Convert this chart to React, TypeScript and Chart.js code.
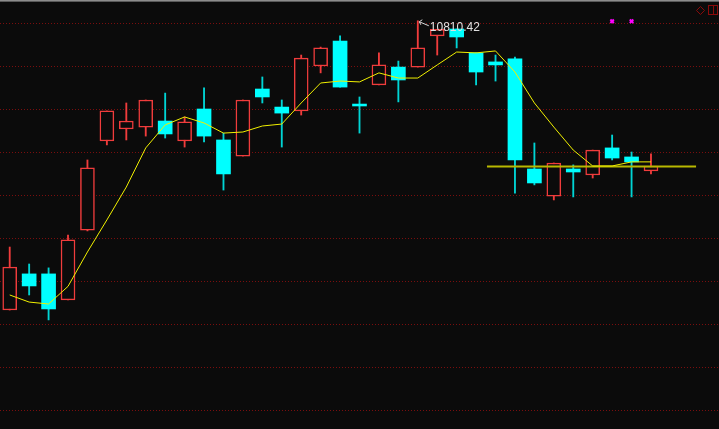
import { useEffect, useRef } from "react";
import { Chart, registerables } from "chart.js";

Chart.register(...registerables);

// ---- data ----
const slotCount = 37; // 34 candles + 3 empty slots on the right
const opens = [9465, 9633, 9633, 9512, 9837, 10251, 10307, 10316, 10344, 10251, 10400, 10256, 10181, 10493, 10409, 10391, 10600, 10716, 10423, 10512, 10595, 10595, 10740, 10772, 10661, 10619, 10633, 10121, 9995, 10121, 10093, 10219, 10177, 10112];
const closes = [9665, 9577, 9470, 9791, 10126, 10391, 10344, 10442, 10284, 10340, 10274, 10098, 10442, 10456, 10381, 10637, 10684, 10502, 10414, 10605, 10535, 10684, 10770, 10735, 10572, 10605, 10163, 10056, 10149, 10107, 10209, 10172, 10154, 10135];
const highs = [9758, 9679, 9661, 9814, 10163, 10391, 10428, 10442, 10474, 10363, 10498, 10288, 10442, 10549, 10442, 10651, 10688, 10740, 10456, 10661, 10623, 10810.42, 10770, 10772, 10661, 10651, 10642, 10242, 10149, 10140, 10209, 10279, 10200, 10191];
const lows = [9465, 9535, 9419, 9512, 9833, 10233, 10256, 10274, 10265, 10223, 10247, 10023, 10181, 10428, 10223, 10372, 10568, 10502, 10288, 10512, 10433, 10595, 10651, 10684, 10512, 10530, 10009, 10047, 9977, 9991, 10079, 10163, 9991, 10098];
const maValues = [9535, 9502, 9493, 9575, 9735, 9884, 10037, 10219, 10326, 10363, 10335, 10288, 10293, 10321, 10330, 10428, 10521, 10530, 10526, 10568, 10544, 10544, 10605, 10665, 10661, 10670, 10572, 10428, 10316, 10209, 10135, 10135, 10154, 10154];
const gridLevels = [10800, 10600, 10400, 10200, 10000, 9800, 9600, 9400, 9200, 9000];
const yMin = 8911.63;
const yMax = 10906.98;
const hLineLevel = 10132;
const hLineSpan = [24.56, 35.32];
const markIndices = [31, 32];
const markLevel = 10808;

const BG = "#0b0b0b";
const UP = "#f03c3c";
const DOWN = "#00ffff";
const DOWN_WICK = "#00d4d4";

const chromePlugin = {
  id: "chrome",
  beforeDraw(chart: any) {
    const { ctx, width, height } = chart;
    ctx.save();
    ctx.fillStyle = BG;
    ctx.fillRect(0, 0, width, height);
    ctx.restore();
  },
  afterDraw(chart: any) {
    const { ctx, width } = chart;
    const xs = chart.scales.x;
    const ys = chart.scales.y;
    ctx.save();
    // top border
    ctx.fillStyle = "#8c8c8c";
    ctx.fillRect(0, 0, width, 1);
    ctx.fillStyle = "#5a5a5a";
    ctx.fillRect(0, 1, width, 1);
    // top-right icons
    ctx.strokeStyle = "#8a0a0a";
    ctx.lineWidth = 1;
    ctx.beginPath();
    ctx.moveTo(700.5, 6.5);
    ctx.lineTo(704.5, 10.5);
    ctx.lineTo(700.5, 14.5);
    ctx.lineTo(696.5, 10.5);
    ctx.closePath();
    ctx.stroke();
    ctx.strokeRect(708.5, 5.5, 9, 9);
    ctx.beginPath();
    ctx.moveTo(713.5, 5.5);
    ctx.lineTo(713.5, 14.5);
    ctx.stroke();
    // max label
    let mi = 0;
    highs.forEach((h, i) => {
      if (h > highs[mi]) mi = i;
    });
    const px = xs.getPixelForValue(mi);
    const py = ys.getPixelForValue(highs[mi]);
    ctx.strokeStyle = "#d8d8d8";
    ctx.beginPath();
    ctx.moveTo(px + 1.5, py + 1);
    ctx.lineTo(px + 11, py + 5);
    ctx.moveTo(px + 1.5, py + 1);
    ctx.lineTo(px + 4.5, py - 1);
    ctx.moveTo(px + 1.5, py + 1);
    ctx.lineTo(px + 3, py + 4);
    ctx.stroke();
    ctx.fillStyle = "#e0e0e0";
    ctx.font = "12px 'Liberation Sans', Arial, sans-serif";
    ctx.textBaseline = "middle";
    ctx.fillText(highs[mi].toFixed(2), px + 12, py + 7);
    ctx.restore();
  },
};

export default function App() {
  const ref = useRef<HTMLCanvasElement | null>(null);

  useEffect(() => {
    document.body.style.margin = "0";
    const canvas = ref.current;
    if (!canvas) return;
    const idx = opens.map((_, i) => i);
    const isUp = idx.map((i) => closes[i] > opens[i]);

    const chart = new Chart(canvas, {
      type: "bar",
      data: {
        datasets: [
          {
            type: "line",
            label: "MA",
            data: maValues.map((v, i) => ({ x: i, y: v })),
            borderColor: "#f0f000",
            borderWidth: 1,
            pointRadius: 0,
            tension: 0,
            order: 0,
          } as any,
          {
            type: "scatter",
            label: "marks",
            data: markIndices.map((i) => ({ x: i, y: markLevel })),
            pointStyle: "crossRot",
            pointRadius: 2.5,
            borderColor: "#ff00ff",
            backgroundColor: "#ff00ff",
            borderWidth: 2,
            order: 0,
          } as any,
          {
            type: "line",
            label: "level",
            data: hLineSpan.map((x) => ({ x, y: hLineLevel })),
            borderColor: "#b8b800",
            borderWidth: 2,
            pointRadius: 0,
            order: 1,
          } as any,
          {
            type: "bar",
            label: "body",
            data: idx.map((i) => ({ x: i, y: [opens[i], closes[i]] })),
            backgroundColor: idx.map((i) => (isUp[i] ? BG : DOWN)),
            borderColor: idx.map((i) => (isUp[i] ? UP : DOWN)),
            borderWidth: idx.map((i) => (isUp[i] ? 1.5 : 0)),
            borderSkipped: false,
            barThickness: 14,
            grouped: false,
            order: 2,
          } as any,
          {
            type: "bar",
            label: "wick",
            data: idx.map((i) => ({ x: i, y: [lows[i], highs[i]] })),
            backgroundColor: idx.map((i) => (isUp[i] ? UP : DOWN_WICK)),
            borderWidth: 0,
            barThickness: 1.2,
            grouped: false,
            order: 3,
          } as any,
        ],
      },
      options: {
        animation: false,
        responsive: false,
        maintainAspectRatio: false,
        layout: { padding: 0, autoPadding: false },
        plugins: {
          legend: { display: false },
          tooltip: { enabled: false },
        },
        scales: {
          x: {
            type: "linear",
            min: -0.5,
            max: slotCount - 0.5,
            display: false,
            offset: false,
          },
          y: {
            type: "linear",
            min: yMin,
            max: yMax,
            display: true,
            ticks: { display: false },
            grid: { color: "#7a0e0e", drawTicks: false, lineWidth: 1 },
            border: { display: false, dash: [1, 2] },
            afterBuildTicks: (scale: any) => {
              scale.ticks = gridLevels.map((v) => ({ value: v }));
            },
          },
        },
      } as any,
      plugins: [chromePlugin],
    });
    return () => chart.destroy();
  }, []);

  return (
    <div style={{ width: 719, height: 429, background: BG }}>
      <canvas ref={ref} width={719} height={429} style={{ display: "block" }} />
    </div>
  );
}
